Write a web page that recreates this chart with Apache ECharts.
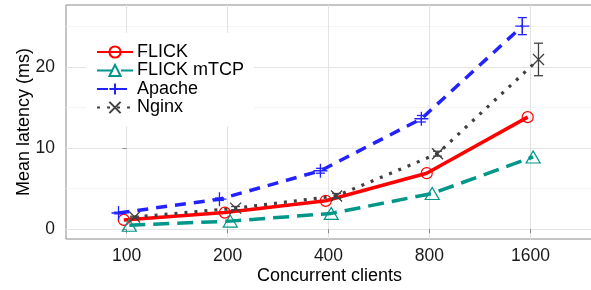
<!DOCTYPE html>
<html>
<head>
<meta charset="utf-8">
<script src="https://cdn.jsdelivr.net/npm/echarts@6/dist/echarts.min.js"></script>
<style>
  html, body { margin: 0; padding: 0; background: #fff; }
  #main { width: 591px; height: 290px; }
</style>
</head>
<body>
<div id="main"></div>
<script>
// x categories (log2 spaced), y in ms
const clients = [100, 200, 400, 800, 1600];
const yMajor = [0, 10, 20];
const yMinor = [5, 15, 25];
const yRange = [-1.2, 27.6];

const flick = [1.15, 2.05, 3.5, 6.9, 13.8];
const flickMtcp = [0.5, 1.0, 1.95, 4.4, 8.9];
const apache = [2.0, 3.7, 7.2, 13.6, 25.0];
const nginx = [1.5, 2.6, 4.1, 9.3, 20.9];

// error bar half widths
const apacheErr = [0.1, 0.15, 0.3, 0.4, 1.05];
const nginxErr = [0.1, 0.2, 0.3, 0.3, 2.0];

// dodge offset in log2 units
const dodge = { flick: -0.027, mtcp: 0.027, apache: -0.08, nginx: 0.08 };

const FONT = 'Liberation Sans';
const pos = c => Math.log2(c / 100);

function pts(vals, off) {
    return vals.map((v, i) => [pos(clients[i]) + off, v]);
}
function errPts(vals, err, off) {
    return vals.map((v, i) => [pos(clients[i]) + off, v - err[i], v + err[i]]);
}

function errSeries(vals, err, off, color) {
    return {
        type: 'custom',
        z: 4,
        silent: true,
        data: errPts(vals, err, off),
        renderItem: function (params, api) {
            const lo = api.coord([api.value(0), api.value(1)]);
            const hi = api.coord([api.value(0), api.value(2)]);
            const hw = 4.5;
            const st = { stroke: color, lineWidth: 1.3 };
            return {
                type: 'group',
                children: [
                    { type: 'line', shape: { x1: lo[0], y1: lo[1], x2: hi[0], y2: hi[1] }, style: st },
                    { type: 'line', shape: { x1: lo[0] - hw, y1: lo[1], x2: lo[0] + hw, y2: lo[1] }, style: st },
                    { type: 'line', shape: { x1: hi[0] - hw, y1: hi[1], x2: hi[0] + hw, y2: hi[1] }, style: st }
                ]
            };
        }
    };
}

const majorStyle = { color: '#e3e3e3', width: 1.1, type: 'solid' };
const minorStyle = { color: '#f3f3f3', width: 0.8, type: 'solid' };
const gridLines = [];
yMajor.forEach(v => gridLines.push({ yAxis: v, lineStyle: majorStyle }));
yMinor.forEach(v => gridLines.push({ yAxis: v, lineStyle: minorStyle }));
clients.forEach(c => gridLines.push([
    { coord: [pos(c), yRange[0]], lineStyle: majorStyle },
    { coord: [pos(c), yRange[1]] }
]));

const option = {
    animation: false,
    backgroundColor: '#fff',
    grid: {
        left: 66, top: 5, right: -2, bottom: 51,
        outerBoundsMode: 'none',
        containLabel: false,
        show: true, borderColor: '#8a8a8a', borderWidth: 1
    },
    legend: {
        orient: 'vertical',
        left: 86,
        top: 33,
        z: 6,
        padding: 10,
        backgroundColor: '#fff',
        itemWidth: 36,
        itemHeight: 14,
        itemGap: 0.5,
        textStyle: { fontFamily: FONT, fontSize: 18, lineHeight: 16, color: '#000', padding: [0, 0, 0, -1] },
        data: ['FLICK', 'FLICK mTCP', 'Apache', 'Nginx']
    },
    xAxis: {
        type: 'value',
        min: -0.6,
        max: 4.62,
        name: 'Concurrent clients',
        nameLocation: 'middle',
        nameGap: 28,
        nameMoveOverlap: false,
        nameTextStyle: { fontFamily: FONT, fontSize: 18, color: '#000' },
        axisLine: { show: false },
        splitLine: { show: false },
        axisTick: { show: true, length: 4, lineStyle: { color: '#8a8a8a' }, customValues: clients.map(pos) },
        axisLabel: {
            customValues: clients.map(pos),
            fontFamily: FONT, fontSize: 17.5, color: '#1a1a1a', margin: 8,
            formatter: v => String(Math.round(100 * Math.pow(2, v)))
        }
    },
    yAxis: {
        type: 'value',
        min: yRange[0],
        max: yRange[1],
        name: 'Mean latency (ms)',
        nameLocation: 'middle',
        nameGap: 33,
        nameMoveOverlap: false,
        nameTextStyle: { fontFamily: FONT, fontSize: 18, color: '#000' },
        axisLine: { show: false },
        splitLine: { show: false },
        axisTick: { show: true, length: 4, lineStyle: { color: '#8a8a8a' }, customValues: yMajor },
        axisLabel: {
            customValues: yMajor,
            fontFamily: FONT, fontSize: 17.5, color: '#1a1a1a', margin: 11
        }
    },
    series: [
        {
            name: 'grid', type: 'line', z: 0, silent: true, data: [],
            markLine: { z: 0, silent: true, symbol: 'none', label: { show: false }, animation: false, data: gridLines }
        },
        {
            name: 'FLICK', type: 'line', z: 3,
            data: pts(flick, dodge.flick),
            symbol: 'circle', symbolSize: 11,
            lineStyle: { color: '#ff0000', width: 3.5 },
            itemStyle: { color: 'rgba(255,255,255,0)', borderColor: '#ff0000', borderWidth: 1.2 }
        },
        {
            name: 'FLICK mTCP', type: 'line', z: 3,
            data: pts(flickMtcp, dodge.mtcp),
            symbol: 'triangle', symbolSize: [14, 12],
            lineStyle: { color: '#00968a', width: 3.5, type: [16, 8] },
            itemStyle: { color: 'rgba(255,255,255,0)', borderColor: '#00968a', borderWidth: 1.2 }
        },
        {
            name: 'Apache', type: 'line', z: 3,
            data: pts(apache, dodge.apache),
            symbol: 'path://M5,0L5,10M0,5L10,5', symbolSize: 14,
            lineStyle: { color: '#2222ff', width: 3.5, type: [11, 8] },
            itemStyle: { color: 'rgba(0,0,0,0)', borderColor: '#2222ff', borderWidth: 1.3 }
        },
        {
            name: 'Nginx', type: 'line', z: 3,
            data: pts(nginx, dodge.nginx),
            symbol: 'path://M0,0L10,10M0,10L10,0', symbolSize: 11,
            lineStyle: { color: '#404040', width: 3.2, type: [3, 7] },
            itemStyle: { color: 'rgba(0,0,0,0)', borderColor: '#404040', borderWidth: 1.3 }
        },
        errSeries(apache, apacheErr, dodge.apache, '#2222ff'),
        errSeries(nginx, nginxErr, dodge.nginx, '#404040')
    ]
};

const chart = echarts.init(document.getElementById('main'), null, { renderer: 'canvas' });
chart.setOption(option);
</script>
</body>
</html>
